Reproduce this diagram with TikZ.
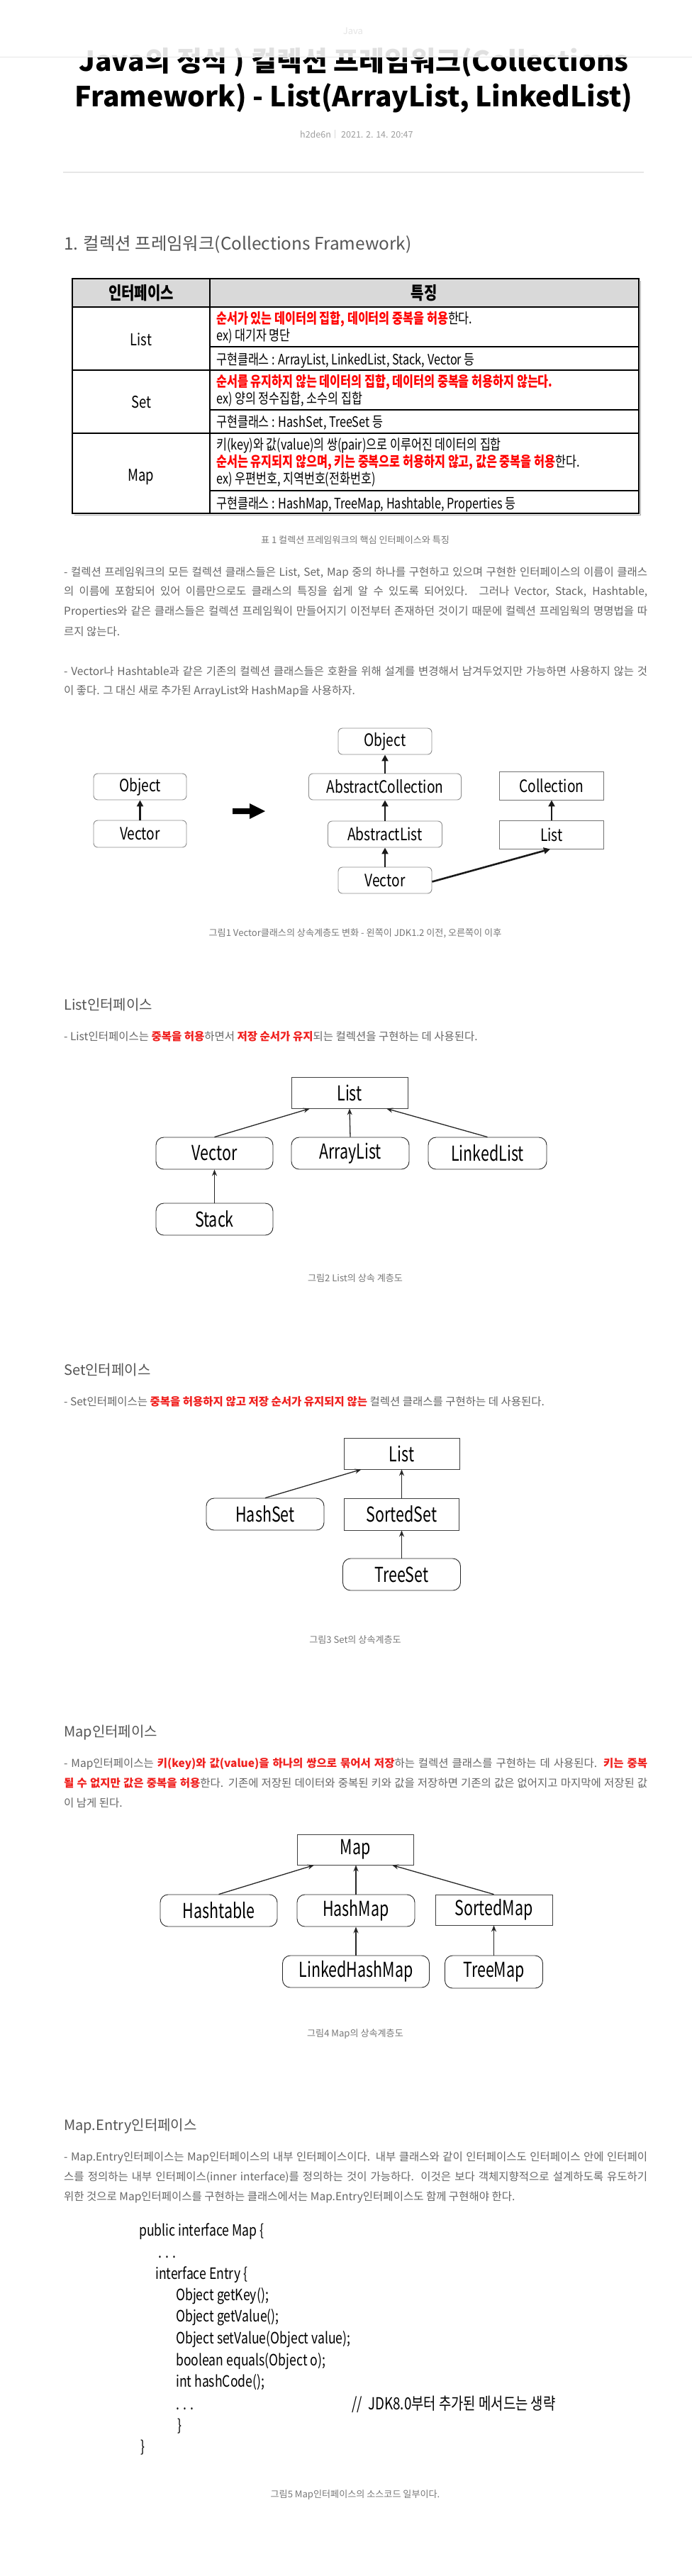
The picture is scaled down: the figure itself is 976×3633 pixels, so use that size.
\documentclass[tikz,border=0pt]{standalone}
\usepackage{fontspec}
\setmainfont{Noto Sans CJK KR}
\newfontfamily\tabfont{Noto Sans CJK KR}[FakeStretch=0.8]
\newfontfamily\diafont{Noto Sans CJK KR}[FakeStretch=0.74]
\usetikzlibrary{arrows.meta}
\definecolor{txt}{HTML}{666666}
\definecolor{headc}{HTML}{555555}
\definecolor{capc}{HTML}{777777}
\definecolor{bodyred}{HTML}{F0201E}
\definecolor{tabred}{HTML}{FF0000}
\definecolor{thead}{HTML}{D9D9D9}
\definecolor{rulec}{HTML}{E6E6E6}
\newcommand\fsz[1]{\fontsize{#1}{#1}\selectfont}
\newcommand\rd[1]{{\color{bodyred}\bfseries #1}}
\newcommand\trd[1]{{\color{tabred}\bfseries #1}}
\newcommand\jl[1]{\makebox[823pt][s]{#1}}
\tikzset{
  bodyline/.style={anchor=base west, inner sep=0, text=txt, font=\fsz{15.5}},
  headline/.style={anchor=base west, inner sep=0, text=headc, font=\fsz{20}},
  capline/.style={anchor=base, inner sep=0, text=capc, font=\fsz{13.1}},
  tabline/.style={anchor=base west, inner sep=0, text=black, font=\tabfont\fsz{20.3}},
  tablabel/.style={anchor=base, inner sep=0, text=black, font=\tabfont\fsz{23}},
  codeline/.style={anchor=base west, inner sep=0, text=black, font=\tabfont\fsz{22}},
  tline/.style={draw=black, line width=1.3pt},
  fbox/.style={draw=black!45, rounded corners=6pt, line width=0.9pt, inner sep=0,
    font=\tabfont\fsz{24}, text=black},
  fsbox/.style={draw=black!55, line width=0.9pt, inner sep=0, font=\tabfont\fsz{24}, text=black},
  rbox/.style={draw=black!85, rounded corners=11pt, line width=0.9pt, inner sep=0,
    font=\diafont\fsz{29}, text=black},
  sbox/.style={draw=black!75, line width=0.8pt, inner sep=0, font=\diafont\fsz{29}, text=black},
  fatarrow/.style={-{Triangle[length=9pt,width=9pt]}, line width=2.6pt, draw=black!90},
  thinarrow/.style={-{Stealth[length=9pt,width=7pt]}, line width=1.3pt, draw=black!85}
}
\begin{document}
\begin{tikzpicture}[x=1pt,y=-1pt]
\useasboundingbox (0,0) rectangle (976,3633);
\fill[white] (0,0) rectangle (976,3633);

% ---------- title ----------
\node[anchor=base, inner sep=0, font=\bfseries\fsz{39}] (t1) at (499,100) {Java의 정석 ) 컬렉션 프레임워크(Collections};
\node[anchor=base, inner sep=0, font=\bfseries\fsz{39}] (t2) at (499,150) {Framework) - List(ArrayList, LinkedList)};
\fill[white, opacity=0.88] (0,0) rectangle (976,80);
\draw[rulec, line width=1pt] (0,80) -- (976,80);
\node[anchor=base, inner sep=0, text=black!10, font=\fsz{13}] (cat) at (498,48) {Java};
\node[anchor=base west, inner sep=0, text=black!38, font=\fsz{12.5}] (auth) at (423,194) {h2de6n};
\draw[black!15, line width=0.8pt] (472,183) -- (472,195);
\node[anchor=base west, inner sep=0, text=black!38, font=\fsz{12.5}] (date) at (481,194) {2021. 2. 14. 20:47};
\draw[rulec, line width=1.2pt] (89,243) -- (908,243);

% ---------- section 1 ----------
\node[headline, font=\fsz{24.4}] (h1) at (90,352) {1. 컬렉션 프레임워크(Collections Framework)};

% table
\fill[thead] (102,393) rectangle (901,433);
\draw[black!35, line width=1.6pt] (903.5,396) -- (903.5,726.5) -- (105,726.5);
\draw[tline] (102,393) rectangle (901,724);
\draw[tline] (296,393) -- (296,724);
\draw[tline] (102,433) -- (901,433);
\draw[tline] (102,522) -- (901,522);
\draw[tline] (102,611) -- (901,611);
\draw[tline] (296,489) -- (901,489);
\draw[tline] (296,578) -- (901,578);
\draw[tline] (296,692) -- (901,692);
\node[tablabel, font=\tabfont\bfseries\fsz{25}] (th1) at (199,422) {인터페이스};
\node[tablabel, font=\tabfont\bfseries\fsz{25}] (th2) at (598,422) {특징};
\node[tablabel] (tl1) at (199,487) {List};
\node[tablabel] (tl2) at (199,575) {Set};
\node[tablabel] (tl3) at (199,678) {Map};
\node[tabline] (r1a) at (305,456) {\trd{순서가 있는 데이터의 집합, 데이터의 중복을 허용}한다.};
\node[tabline] (r1b) at (305,480) {ex) 대기자 명단};
\node[tabline] (r1c) at (305,514) {구현클래스 : ArrayList, LinkedList, Stack, Vector 등};
\node[tabline] (r2a) at (305,545) {\trd{순서를 유지하지 않는 데이터의 집합, 데이터의 중복을 허용하지 않는다.}};
\node[tabline] (r2b) at (305,569) {ex) 양의 정수집합, 소수의 집합};
\node[tabline] (r2c) at (305,602) {구현클래스 : HashSet, TreeSet 등};
\node[tabline] (r3a) at (305,634) {키(key)와 값(value)의 쌍(pair)으로 이루어진 데이터의 집합};
\node[tabline] (r3b) at (305,658) {\trd{순서는 유지되지 않으며, 키는 중복으로 허용하지 않고, 값은 중복을 허용}한다.};
\node[tabline] (r3c) at (305,682) {ex) 우편번호, 지역번호(전화번호)};
\node[tabline] (r3d) at (305,717) {구현클래스 : HashMap, TreeMap, Hashtable, Properties 등};
\node[capline] (cap1) at (501,766) {표 1 컬렉션 프레임워크의 핵심 인터페이스와 특징};

\node[bodyline] (p1a) at (90,812.5) {\jl{- 컬렉션 프레임워크의 모든 컬렉션 클래스들은 List, Set, Map 중의 하나를 구현하고 있으며 구현한 인터페이스의 이름이 클래스}};
\node[bodyline] (p1b) at (90,839.5) {\jl{의 이름에 포함되어 있어 이름만으로도 클래스의 특징을 쉽게 알 수 있도록 되어있다. 그러나 Vector, Stack, Hashtable,}};
\node[bodyline] (p1c) at (90,867.5) {\jl{Properties와 같은 클래스들은 컬렉션 프레임웍이 만들어지기 이전부터 존재하던 것이기 때문에 컬렉션 프레임웍의 명명법을 따}};
\node[bodyline] (p1d) at (90,896.5) {르지 않는다.};
\node[bodyline] (p2a) at (90,952.5) {\jl{- Vector나 Hashtable과 같은 기존의 컬렉션 클래스들은 호환을 위해 설계를 변경해서 남겨두었지만 가능하면 사용하지 않는 것}};
\node[bodyline] (p2b) at (90,979.5) {이 좋다. 그 대신 새로 추가된 ArrayList와 HashMap을 사용하자.};

% ---------- figure 1 ----------
\node[fbox, minimum width=131pt, minimum height=37pt] (o1) at (197.5,1109.5) {Object};
\node[fbox, minimum width=131pt, minimum height=38pt] (v1) at (197.5,1176) {Vector};
\draw[fatarrow] (v1.north) -- (o1.south);
\fill[black] (328,1140) -- (352,1140) -- (352,1133) -- (374,1144) -- (352,1155) -- (352,1148) -- (328,1148) -- cycle;
\node[fbox, minimum width=132pt, minimum height=37pt] (o2) at (543,1045.5) {Object};
\node[fbox, minimum width=215pt, minimum height=37pt] (ac) at (543,1109.5) {AbstractCollection};
\node[fbox, minimum width=161pt, minimum height=37pt] (al) at (543,1176.5) {AbstractList};
\node[fbox, minimum width=132pt, minimum height=37pt] (v2) at (543,1241.5) {Vector};
\node[fsbox, minimum width=147pt, minimum height=40pt] (col) at (778,1108) {Collection};
\node[fsbox, minimum width=147pt, minimum height=40pt] (l1) at (778,1177) {List};
\draw[fatarrow] (ac.north) -- (o2.south);
\draw[fatarrow] (al.north) -- (ac.south);
\draw[fatarrow] (v2.north) -- (al.south);
\draw[fatarrow] (l1.north) -- (col.south);
\draw[fatarrow] ([yshift=-2pt]v2.east) -- ([xshift=-2pt]l1.south);
\node[capline] (cap2) at (501,1320) {그림1 Vector클래스의 상속계층도 변화 - 왼쪽이 JDK1.2 이전, 오른쪽이 이후};

% ---------- List ----------
\node[headline] (h2) at (90,1424) {List인터페이스};
\node[bodyline] (p3) at (90,1467.5) {- List인터페이스는 \rd{중복을 허용}하면서 \rd{저장 순서가 유지}되는 컬렉션을 구현하는 데 사용된다.};
\node[sbox, minimum width=164pt, minimum height=44pt] (L) at (493,1541) {List};
\node[rbox, minimum width=165pt, minimum height=45pt] (vec) at (302.5,1626.5) {Vector};
\node[rbox, minimum width=166pt, minimum height=45pt] (arl) at (494,1626.5) {ArrayList};
\node[rbox, minimum width=167pt, minimum height=45pt] (lkl) at (687.5,1626.5) {LinkedList};
\node[rbox, minimum width=165pt, minimum height=45pt] (stk) at (302.5,1719.5) {Stack};
\draw[thinarrow] (vec.north) -- ([xshift=-56pt]L.south);
\draw[thinarrow] (arl.north) -- (L.south);
\draw[thinarrow] (lkl.north) -- ([xshift=52pt]L.south);
\draw[thinarrow] (stk.north) -- (vec.south);
\node[capline] (cap3) at (501,1807) {그림2 List의 상속 계층도};

% ---------- Set ----------
\node[headline] (h3) at (90,1939) {Set인터페이스};
\node[bodyline] (p4) at (90,1982.5) {- Set인터페이스는 \rd{중복을 허용하지 않고 저장 순서가 유지되지 않는} 컬렉션 클래스를 구현하는 데 사용된다.};
\node[sbox, minimum width=163pt, minimum height=44pt] (SL) at (566.5,2050) {List};
\node[rbox, minimum width=166pt, minimum height=45pt] (hs) at (374,2135.5) {HashSet};
\node[sbox, minimum width=162pt, minimum height=45pt] (ss) at (566.5,2135.5) {SortedSet};
\node[rbox, minimum width=166pt, minimum height=45pt] (ts) at (566.5,2220.5) {TreeSet};
\draw[thinarrow] (hs.north) -- ([xshift=-57pt]SL.south);
\draw[thinarrow] (ss.north) -- (SL.south);
\draw[thinarrow] (ts.north) -- (ss.south);
\node[capline] (cap4) at (501,2317) {그림3 Set의 상속계층도};

% ---------- Map ----------
\node[headline] (h4) at (90,2449) {Map인터페이스};
\node[bodyline] (p5a) at (90,2492.5) {\jl{- Map인터페이스는 \rd{키(key)와 값(value)을 하나의 쌍으로 묶어서 저장}하는 컬렉션 클래스를 구현하는 데 사용된다. \rd{키는 중복}}};
\node[bodyline] (p5b) at (90,2520.5) {\jl{\rd{될 수 없지만 값은 중복을 허용}한다. 기존에 저장된 데이터와 중복된 키와 값을 저장하면 기존의 값은 없어지고 마지막에 저장된 값}};
\node[bodyline] (p5c) at (90,2548.5) {이 남게 된다.};
\node[sbox, minimum width=164pt, minimum height=43pt] (M) at (501,2608.5) {Map};
\node[rbox, minimum width=165pt, minimum height=45pt] (ht) at (308.5,2694.5) {Hashtable};
\node[rbox, minimum width=166pt, minimum height=45pt] (hm) at (502,2694.5) {HashMap};
\node[sbox, minimum width=165pt, minimum height=43pt] (sm) at (696.5,2693.5) {SortedMap};
\node[rbox, minimum width=207pt, minimum height=45pt] (lhm) at (502,2780.5) {LinkedHashMap};
\node[rbox, minimum width=138pt, minimum height=46pt] (tm) at (696.5,2781) {TreeMap};
\draw[thinarrow] (ht.north) -- ([xshift=-58pt]M.south);
\draw[thinarrow] (hm.north) -- ([xshift=1pt]M.south);
\draw[thinarrow] (sm.north) -- ([xshift=52pt]M.south);
\draw[thinarrow] (lhm.north) -- (hm.south);
\draw[thinarrow] (tm.north) -- (sm.south);
\node[capline] (cap5) at (501,2872) {그림4 Map의 상속계층도};

% ---------- Map.Entry ----------
\node[headline] (h5) at (90,3004) {Map.Entry인터페이스};
\node[bodyline] (p6a) at (90,3047.5) {\jl{- Map.Entry인터페이스는 Map인터페이스의 내부 인터페이스이다. 내부 클래스와 같이 인터페이스도 인터페이스 안에 인터페이}};
\node[bodyline] (p6b) at (90,3075.5) {\jl{스를 정의하는 내부 인터페이스(inner interface)를 정의하는 것이 가능하다. 이것은 보다 객체지향적으로 설계하도록 유도하기}};
\node[bodyline] (p6c) at (90,3103.5) {위한 것으로 Map인터페이스를 구현하는 클래스에서는 Map.Entry인터페이스도 함께 구현해야 한다.};

\node[codeline] (c1) at (196,3153) {public interface Map \{};
\node[codeline] (c2) at (223,3184) {. . .};
\node[codeline] (c3) at (219,3214) {interface Entry \{};
\node[codeline] (c4) at (248,3244) {Object getKey();};
\node[codeline] (c5) at (248,3274) {Object getValue();};
\node[codeline] (c6) at (248,3305) {Object setValue(Object value);};
\node[codeline] (c7) at (248,3336) {boolean equals(Object o);};
\node[codeline] (c8) at (248,3366) {int hashCode();};
\node[codeline] (c9) at (248,3398) {. . .};
\node[codeline, font=\tabfont\fsz{23.5}] (c10) at (496,3398) {//\ \ JDK8.0부터 추가된 메서드는 생략};
\node[codeline] (c11) at (250,3428) {\}};
\node[codeline] (c12) at (198,3458) {\}};
\node[capline] (cap6) at (501,3522) {그림5 Map인터페이스의 소스코드 일부이다.};
\end{tikzpicture}
\end{document}
